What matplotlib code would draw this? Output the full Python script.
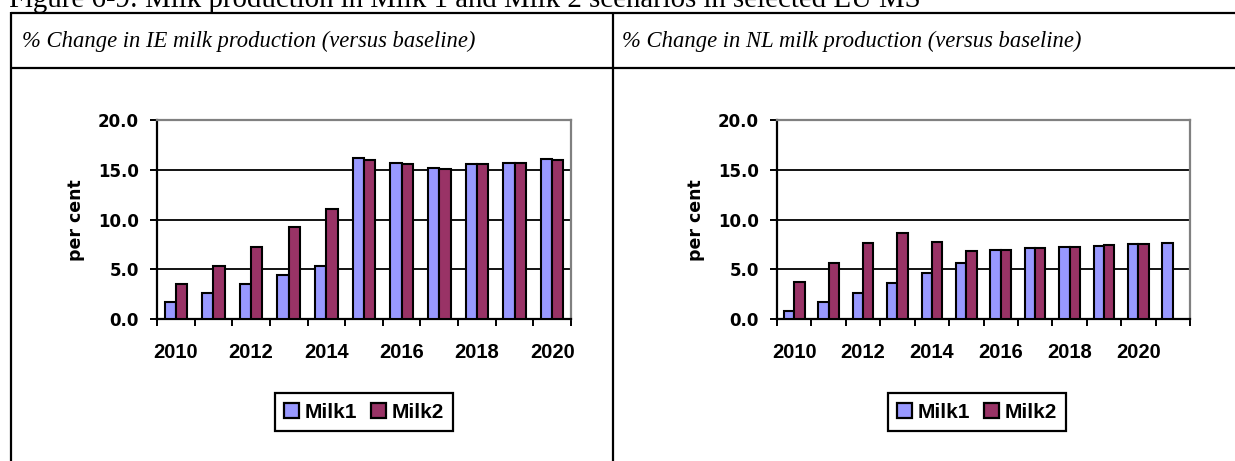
import matplotlib
matplotlib.use("Agg")
import matplotlib.pyplot as plt
from matplotlib.lines import Line2D
from matplotlib.patches import Patch

# ---------------- data ----------------
fig_title = "Figure 6-9: Milk production in Milk 1 and Milk 2 scenarios in selected EU MS"
panel_titles = ["% Change in IE milk production (versus baseline)",
                "% Change in NL milk production (versus baseline)"]
series_names = ["Milk1", "Milk2"]
y_label = "per cent"
y_ticks = [0.0, 5.0, 10.0, 15.0, 20.0]

years_ie = [2010, 2011, 2012, 2013, 2014, 2015, 2016, 2017, 2018, 2019, 2020]
ie_milk1 = [1.7, 2.6, 3.5, 4.4, 5.3, 16.2, 15.7, 15.2, 15.6, 15.7, 16.1]
ie_milk2 = [3.5, 5.3, 7.2, 9.2, 11.1, 16.0, 15.6, 15.1, 15.6, 15.7, 16.0]

years_nl = [2010, 2011, 2012, 2013, 2014, 2015, 2016, 2017, 2018, 2019, 2020, 2021]
nl_milk1 = [0.8, 1.7, 2.6, 3.6, 4.6, 5.6, 6.9, 7.1, 7.2, 7.3, 7.5, 7.6]
nl_milk2 = [3.7, 5.6, 7.6, 8.6, 7.7, 6.8, 6.9, 7.1, 7.2, 7.4, 7.5, None]

colors = ["#9999FF", "#993366"]

# ---------------- layout helpers ----------------
W, H = 1235, 461
fig = plt.figure(figsize=(W / 100, H / 100), dpi=100)


def fx(x):
    return x / W


def fy(y):
    return 1 - y / H


def add_line(xs, ys, lw=1.6):
    fig.add_artist(Line2D([fx(v) for v in xs], [fy(v) for v in ys],
                          transform=fig.transFigure, color="black",
                          linewidth=lw, solid_capstyle="butt"))


# table frame
add_line([11, 1240], [13, 13])
add_line([11, 1240], [68, 68])
add_line([11, 11], [12, 470])
add_line([613, 613], [12, 470])

# caption (partly cut off at the top, as in the source)
fig.text(fx(9), fy(7), fig_title, family="Liberation Serif", fontsize=20.8,
         ha="left", va="baseline")

# header texts
fig.text(fx(22), fy(47), panel_titles[0], family="Liberation Serif",
         style="italic", fontsize=16.3, ha="left", va="baseline")
fig.text(fx(622), fy(47), panel_titles[1], family="Liberation Serif",
         style="italic", fontsize=16.3, ha="left", va="baseline")

panels = [
    dict(years=years_ie, m1=ie_milk1, m2=ie_milk2, left=157, right=571,
         ylab_x=76, leg_x=364),
    dict(years=years_nl, m1=nl_milk1, m2=nl_milk2, left=777, right=1190,
         ylab_x=696, leg_x=977),
]

top_px, bot_px = 120, 319
bw = 0.3

for p in panels:
    ax = fig.add_axes([fx(p["left"]), fy(bot_px), (p["right"] - p["left"]) / W,
                       (bot_px - top_px) / H])
    n = len(p["years"])
    idx = list(range(n))
    handles = []
    for s, (vals, c) in enumerate(zip([p["m1"], p["m2"]], colors)):
        xs = [i + (s - 0.5) * bw for i in idx if vals[i] is not None]
        hs = [vals[i] for i in idx if vals[i] is not None]
        ax.bar(xs, hs, width=bw, color=c, edgecolor="black", linewidth=1.5,
               zorder=3)
        handles.append(Patch(facecolor=c, edgecolor="black", linewidth=1.6,
                             label=series_names[s]))
    ax.set_xlim(-0.5, n - 0.5)
    ax.set_ylim(0, 20)

    # grid
    for g in y_ticks[1:-1]:
        ax.axhline(g, color="black", linewidth=1.3, zorder=1)

    ax.set_yticks(y_ticks)
    ax.set_yticklabels([f"{v:.1f}" for v in y_ticks],
                       family="DejaVu Sans", fontweight="bold", fontsize=12)
    ax.tick_params(axis="y", direction="out", length=5, width=1.4, pad=8,
                   colors="black")

    ax.set_xticks([i - 0.5 for i in range(n + 1)])
    ax.set_xticklabels([])
    ax.set_xticks(idx, minor=True)
    ax.set_xticklabels([str(y) if (y - p["years"][0]) % 2 == 0 else ""
                        for y in p["years"]], minor=True,
                       family="Liberation Sans", fontweight="bold", fontsize=14.5)
    ax.tick_params(axis="x", which="major", direction="out", length=5,
                   width=1.4)
    ax.tick_params(axis="x", which="minor", length=0, pad=17.5)

    for side in ["left", "bottom"]:
        ax.spines[side].set_color("black")
        ax.spines[side].set_linewidth(1.6)
    for side in ["top", "right"]:
        ax.spines[side].set_color("#808080")
        ax.spines[side].set_linewidth(1.6)

    fig.text(fx(p["ylab_x"]), fy(220), y_label, rotation=90,
             family="DejaVu Sans", fontweight="bold", fontsize=12.5,
             ha="center", va="center")

    leg = fig.legend(handles=handles, ncol=2, loc="center",
                     bbox_to_anchor=(fx(p["leg_x"]), fy(412)),
                     frameon=True, fancybox=False, framealpha=1,
                     edgecolor="black",
                     prop=dict(family="Liberation Sans", weight="bold", size=15),
                     handlelength=0.7, handleheight=0.7, handletextpad=0.25,
                     columnspacing=0.7, borderpad=0.45)
    leg.get_frame().set_linewidth(1.6)

fig.savefig("out.png", dpi=100)
